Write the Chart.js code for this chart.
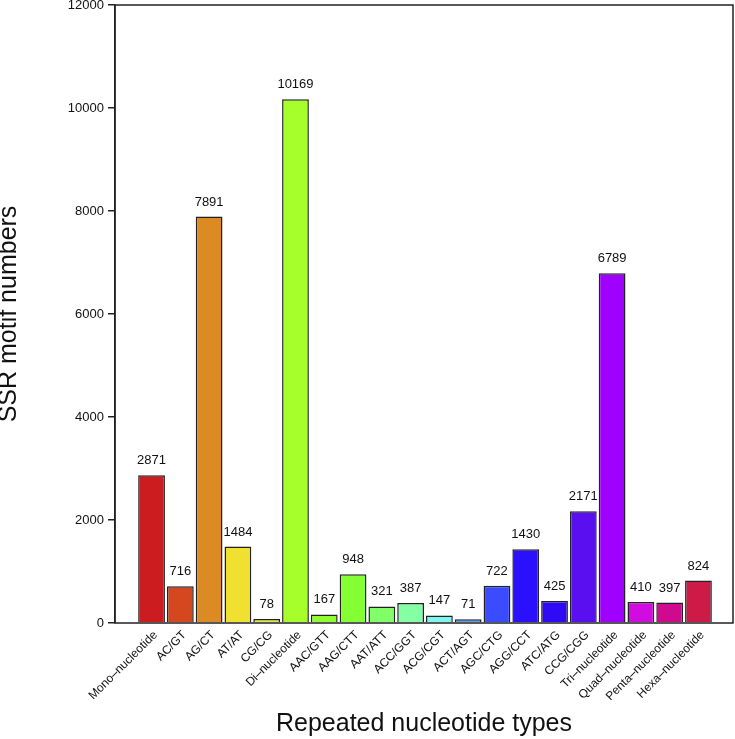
<!DOCTYPE html>
<html>
<head>
<meta charset="utf-8">
<script src="https://cdn.jsdelivr.net/npm/chart.js@4.4.1/dist/chart.umd.min.js"></script>
<style>
html,body{margin:0;padding:0;background:#fff;}
#wrap{width:735px;height:739px;position:relative;}
</style>
</head>
<body>
<div id="wrap"><canvas id="c" width="735" height="739"></canvas></div>
<script>
const categories = ["Mono–nucleotide","AC/GT","AG/CT","AT/AT","CG/CG","Di–nucleotide","AAC/GTT","AAG/CTT","AAT/ATT","ACC/GGT","ACG/CGT","ACT/AGT","AGC/CTG","AGG/CCT","ATC/ATG","CCG/CGG","Tri–nucleotide","Quad–nucleotide","Penta–nucleotide","Hexa–nucleotide"];
const motifCounts = [2871,716,7891,1484,78,10169,167,948,321,387,147,71,722,1430,425,2171,6789,410,397,824];
const barColors = ["#CD1C1F","#D4471F","#DC8B24","#F0E030","#D9F02C","#A6FF2B","#8EFF2E","#84FF33","#80FF66","#85FFA3","#80F5F0","#5A9AF0","#3A4CFF","#2A10FF","#2E0AF5","#5A0FF0","#A000FF","#D00CE0","#CF0A8F","#CD1A46"];
const yTicks = [0,2000,4000,6000,8000,10000,12000];

const FONT = "'Liberation Sans', Arial, Helvetica, sans-serif";

const valueLabels = {
  id: 'valueLabels',
  afterDatasetsDraw(chart) {
    const ctx = chart.ctx;
    const meta = chart.getDatasetMeta(0);
    ctx.save();
    ctx.font = "13px " + FONT;
    ctx.fillStyle = "#111";
    ctx.textAlign = "center";
    ctx.textBaseline = "alphabetic";
    meta.data.forEach((el, i) => {
      ctx.fillText(String(motifCounts[i]), el.x, el.y - 11);
    });
    ctx.restore();
  }
};

const boxPlugin = {
  id: 'boxPlugin',
  afterDraw(chart) {
    const a = chart.chartArea;
    const ctx = chart.ctx;
    ctx.save();
    ctx.strokeStyle = "#222";
    ctx.lineWidth = 1.5;
    ctx.strokeRect(a.left, a.top, a.right - a.left, a.bottom - a.top);
    ctx.restore();
  }
};

new Chart(document.getElementById('c'), {
  type: 'bar',
  data: {
    datasets: [{
      data: motifCounts.map((v, i) => ({x: i, y: v})),
      backgroundColor: barColors,
      borderColor: "#222",
      borderWidth: 1.5,
      barPercentage: 0.93,
      categoryPercentage: 1.0
    }]
  },
  options: {
    responsive: false,
    animation: false,
    devicePixelRatio: 1,
    layout: { padding: { top: 5, right: 2, left: 0, bottom: 0 } },
    plugins: { legend: { display: false }, tooltip: { enabled: false } },
    scales: {
      x: {
        type: 'linear',
        offset: false,
        min: -1.27,
        max: 20.2,
        afterFit(scale) { scale.height = 116; scale.paddingLeft = 0; scale.paddingRight = 0; },
        afterBuildTicks(scale) {
          scale.ticks = categories.map((c, i) => ({value: i}));
        },
        ticks: {
          autoSkip: false,
          maxRotation: 45,
          minRotation: 45,
          padding: 1,
          labelOffset: 4,
          color: "#111",
          font: { family: FONT, size: 12 },
          callback: (v) => (Number.isInteger(v) && v >= 0 && v < categories.length) ? categories[v] : ''
        },
        grid: { display: false, drawTicks: true, tickLength: 4 },
        border: { display: false },
        title: {
          display: true,
          text: "Repeated nucleotide types",
          color: "#111",
          font: { family: FONT, size: 25 },
          padding: { top: 0, bottom: 0 }
        }
      },
      y: {
        min: 0,
        max: 12000,
        afterFit(scale) { scale.width = 115; scale.paddingTop = 0; scale.paddingBottom = 0; },
        afterBuildTicks(scale) {
          scale.ticks = yTicks.map(v => ({value: v}));
        },
        ticks: {
          color: "#111",
          padding: 4,
          font: { family: FONT, size: 13 },
          callback: (v) => String(v)
        },
        grid: { display: true, drawOnChartArea: false, drawTicks: true, tickLength: 7, color: "#222", lineWidth: 1.5 },
        border: { display: true, color: "#222", width: 1.5 },
        title: {
          display: true,
          text: "SSR motif numbers",
          color: "#111",
          font: { family: FONT, size: 25, lineHeight: 1 },
          padding: { top: -3, bottom: 0 }
        }
      }
    }
  },
  plugins: [valueLabels, boxPlugin]
});
</script>
</body>
</html>
